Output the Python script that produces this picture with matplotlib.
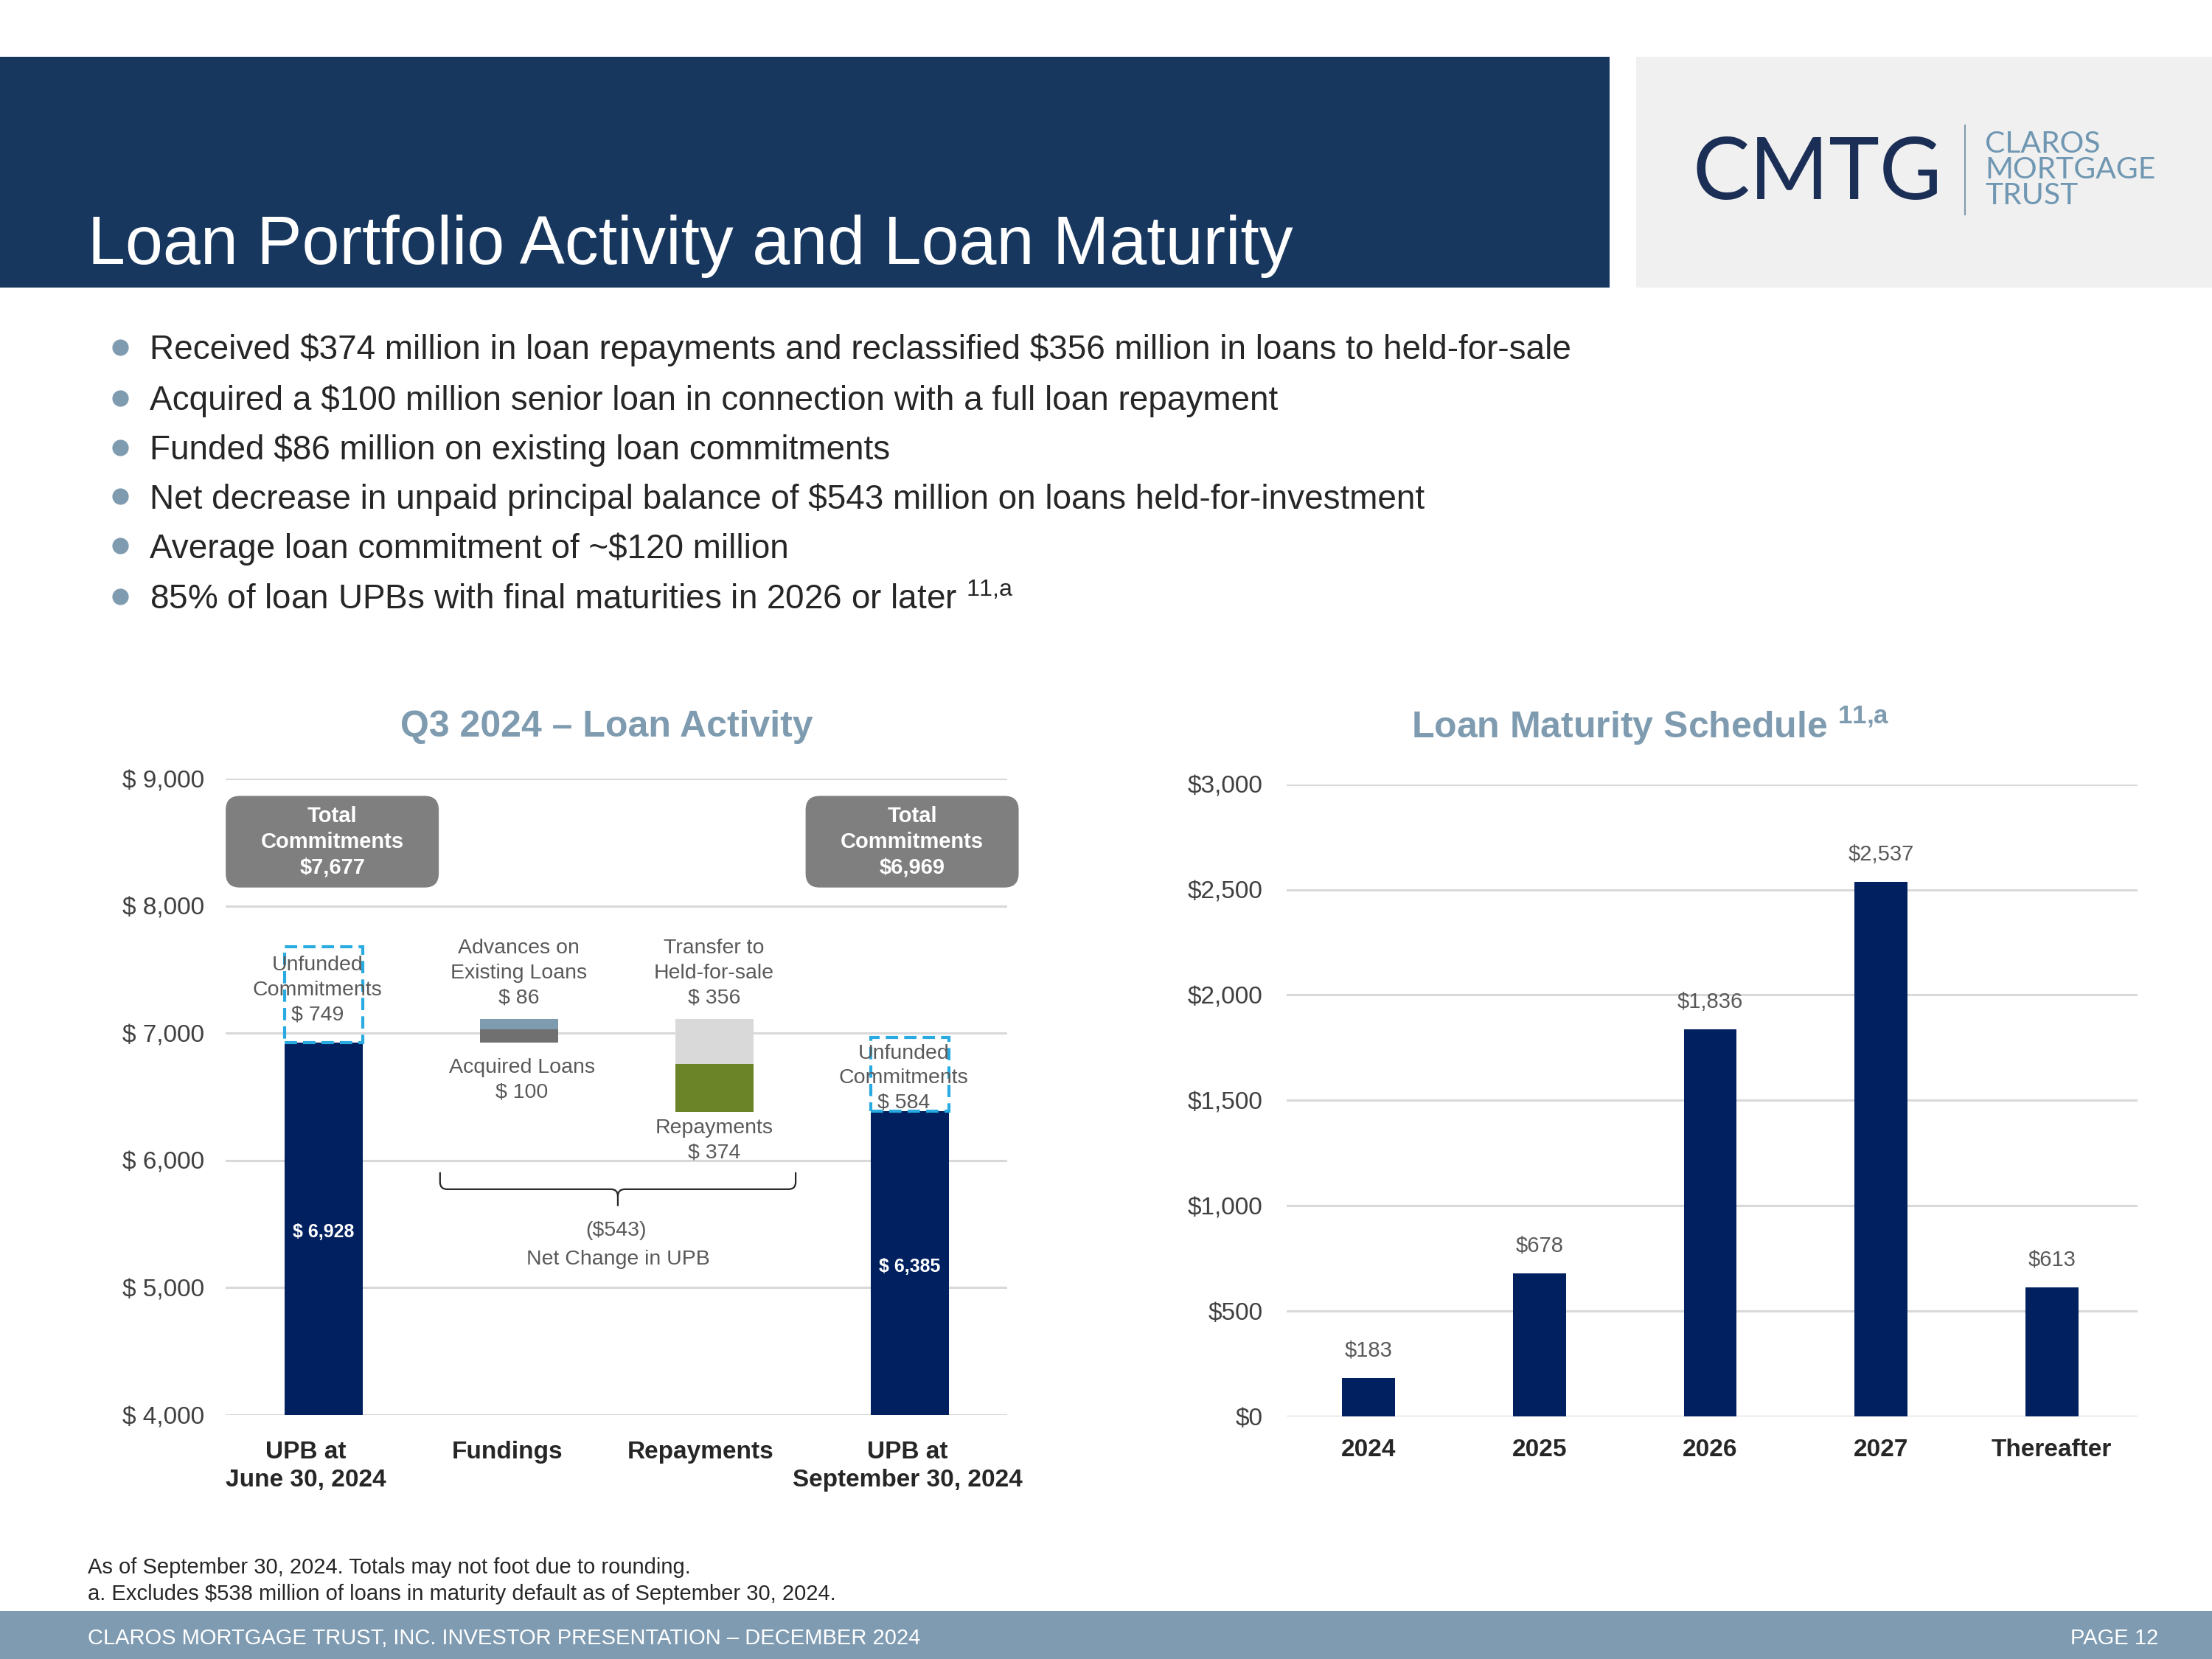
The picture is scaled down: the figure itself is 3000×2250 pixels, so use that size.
import matplotlib
matplotlib.use("Agg")
import matplotlib.pyplot as plt
from matplotlib.patches import Rectangle, FancyBboxPatch, PathPatch
from matplotlib.path import Path
from matplotlib.lines import Line2D

# ---------------- data ----------------
act_categories = ["UPB at\nJune 30, 2024", "Fundings", "Repayments", "UPB at\nSeptember 30, 2024"]
act_label_shift = [-0.09, -0.06, -0.07, -0.01]
upb_start = 6928
unfunded_start = 749
acquired_loans = 100
advances = 86
transfer_hfs = 356
repayments = 374
upb_end = 6385
unfunded_end = 584
act_yticks = [4000, 5000, 6000, 7000, 8000, 9000]

mat_categories = ["2024", "2025", "2026", "2027", "Thereafter"]
mat_values = [183, 678, 1836, 2537, 613]
mat_yticks = [0, 500, 1000, 1500, 2000, 2500, 3000]

bullets = [
    "Received $374 million in loan repayments and reclassified $356 million in loans to held-for-sale",
    "Acquired a $100 million senior loan in connection with a full loan repayment",
    "Funded $86 million on existing loan commitments",
    "Net decrease in unpaid principal balance of $543 million on loans held-for-investment",
    "Average loan commitment of ~$120 million",
    "85% of loan UPBs with final maturities in 2026 or later $^{11{,}a}$",
]

# ---------------- style ----------------
plt.rcParams["font.family"] = ["Liberation Sans", "DejaVu Sans"]
plt.rcParams["mathtext.fontset"] = "custom"
plt.rcParams["mathtext.rm"] = "Liberation Sans"
plt.rcParams["mathtext.bf"] = "Liberation Sans:bold"
plt.rcParams["mathtext.default"] = "regular"

NAVY_BAR = "#002060"
HEADER = "#17375E"
STEEL = "#7F9BB0"
GRID = "#D9D9D9"
LABEL = "#595959"
TICK = "#404040"
DARK = "#262626"
LS = 1.38

W, H = 1568.0, 1176.0
SC = 3000.0 / W


def fx(x):
    return x / W


def fy(y):
    return 1 - y / H


fig = plt.figure(figsize=(30, 22.5), dpi=100)
fig.patch.set_facecolor("white")
renderer = fig.canvas.get_renderer()

# header bands
fig.add_artist(Rectangle((0, fy(204)), fx(1141), (204 - 40) / H, transform=fig.transFigure,
                         facecolor=HEADER, edgecolor="none", zorder=0))
fig.add_artist(Rectangle((fx(1160), fy(204)), 1 - fx(1160), (204 - 40) / H, transform=fig.transFigure,
                         facecolor="#F0F0F0", edgecolor="none", zorder=0))
fig.text(fx(62), fy(187), "Loan Portfolio Activity and Loan Maturity", color="white",
         fontsize=66, va="baseline", ha="left")

# logo
t = fig.text(fx(1200), fy(141), "CMTG", family=["Lato", "DejaVu Sans"], fontweight="normal",
             fontsize=80, color="#1B2E55", va="baseline", ha="left")
bb = t.get_window_extent(renderer)
t.set_fontsize(80 * (177 * SC) / bb.width)
fig.add_artist(Line2D([fx(1393), fx(1393)], [fy(89), fy(152)], transform=fig.transFigure,
                      color=STEEL, lw=1.5))
logo_words = ["CLAROS", "MORTGAGE", "TRUST"]
logo_base = [108, 126.5, 145]
lt = []
for w_, yb in zip(logo_words, logo_base):
    lt.append(fig.text(fx(1407), fy(yb), w_, family=["Lato", "DejaVu Sans"], fontsize=25,
                       color="#7097B2", va="baseline", ha="left"))
bb = lt[1].get_window_extent(renderer)
fs = 25 * (121 * SC) / bb.width
for tt in lt:
    tt.set_fontsize(fs)

# bullets
bullet_centers = [246, 282, 317, 352, 387, 423]
for txt, yc in zip(bullets, bullet_centers):
    fig.add_artist(Line2D([fx(85)], [fy(yc)], transform=fig.transFigure, marker="o",
                          markersize=16, color=STEEL, markeredgewidth=0))
    pm = "^{" in txt
    fig.text(fx(106), fy(yc + 8.6), txt, fontsize=33, color=DARK, va="baseline", ha="left",
             parse_math=pm)

# chart titles
fig.text(fx(430), fy(522), "Q3 2024 – Loan Activity", fontsize=36, fontweight="bold",
         color=STEEL, ha="center", va="baseline")
fig.text(fx(1170), fy(523), "Loan Maturity Schedule $^{11{,}a}$", fontsize=36, fontweight="bold",
         color=STEEL, ha="center", va="baseline")

# ---------------- left chart: loan activity ----------------
ax1 = fig.add_axes([fx(160), fy(1003), (714 - 160) / W, (1003 - 552) / H])
ax1.set_xlim(-0.5, 3.5)
ax1.set_ylim(act_yticks[0], act_yticks[-1])
ax1.set_yticks(act_yticks)
ax1.set_yticklabels([f"$ {v:,}" for v in act_yticks])
ax1.yaxis.grid(True, color=GRID, lw=2.2)
ax1.set_axisbelow(True)
for s in ax1.spines.values():
    s.set_visible(False)
ax1.tick_params(axis="y", length=0, pad=20.7, labelsize=24, labelcolor=TICK)
ax1.set_xticks([i + d for i, d in enumerate(act_label_shift)])
ax1.set_xticklabels(act_categories, fontsize=24, fontweight="bold", color=DARK, linespacing=1.32)
ax1.tick_params(axis="x", length=0, pad=25)

bw = 0.4
# start / end UPB bars
ax1.bar([0, 3], [upb_start, upb_end], width=bw, color=NAVY_BAR, zorder=2)
# fundings stack
ax1.bar(1, acquired_loans, bottom=upb_start, width=bw, color="#707070", zorder=2)
ax1.bar(1, advances, bottom=upb_start + acquired_loans, width=bw, color=STEEL, zorder=2)
peak = upb_start + acquired_loans + advances
# repayments stack
ax1.bar(2, transfer_hfs, bottom=peak - transfer_hfs, width=bw, color="#D9D9D9", zorder=2)
ax1.bar(2, repayments, bottom=peak - transfer_hfs - repayments, width=bw, color="#6B8427", zorder=2)

# unfunded dashed boxes
for xi, base, unf, dy in [(0, upb_start, unfunded_start, 35), (3, upb_end, unfunded_end, -30)]:
    ax1.add_patch(Rectangle((xi - bw / 2, base), bw, unf, fill=False, edgecolor="#29ABE2",
                            lw=3, ls=(0, (4, 2)), zorder=3, clip_on=False))
    ax1.text(xi - 0.03, base + unf / 2 + dy, f"Unfunded\nCommitments\n$ {unf}", ha="center",
             va="center", fontsize=20.5, color=LABEL, zorder=4, linespacing=LS)
    ax1.text(xi, (act_yticks[0] + base) / 2 - 25, f"$ {base:,}", ha="center", va="center",
             fontsize=18, fontweight="bold", color="white", zorder=4)

# total commitments boxes
asp = (714 - 160) / (1003 - 552)
for x0, total in [(0.0, upb_start + unfunded_start), (0.742, upb_end + unfunded_end)]:
    bwid, y0, bh = 0.2726, 0.829, 0.144
    ax1.add_patch(FancyBboxPatch((x0, y0), bwid, bh, boxstyle="round,pad=0,rounding_size=0.018",
                                 mutation_aspect=asp, transform=ax1.transAxes, facecolor="#7F7F7F",
                                 edgecolor="none", clip_on=False, zorder=3))
    ax1.text(x0 + bwid / 2, y0 + bh / 2, f"Total\nCommitments\n${total:,}", transform=ax1.transAxes,
             ha="center", va="center", fontsize=21, fontweight="bold", color="white",
             linespacing=1.3, zorder=4)

# labels around fundings / repayments
ax1.annotate(f"Advances on\nExisting Loans\n$ {advances}", (1, peak), xytext=(0, 11),
             textcoords="offset points", ha="center", va="bottom", fontsize=20.5, color=LABEL,
             linespacing=LS)
ax1.annotate(f"Acquired Loans\n$ {acquired_loans}", (1.015, upb_start), xytext=(0, -15),
             textcoords="offset points", ha="center", va="top", fontsize=20.5, color=LABEL,
             linespacing=LS)
ax1.annotate(f"Transfer to\nHeld-for-sale\n$ {transfer_hfs}", (2, peak), xytext=(0, 11),
             textcoords="offset points", ha="center", va="bottom", fontsize=20.5, color=LABEL,
             linespacing=LS)
ax1.annotate(f"Repayments\n$ {repayments}", (2, peak - transfer_hfs - repayments), xytext=(0, -7),
             textcoords="offset points", ha="center", va="top", fontsize=20.5, color=LABEL,
             linespacing=LS)

# brace + net change
x0b, x1b, xc = 0.597, 2.417, 1.507
ytop, ymid, ybot = 5907, 5774, 5641
rx, ry = 0.036, 55
verts = [(x0b, ytop), (x0b, ymid + ry), (x0b, ymid), (x0b + rx, ymid), (xc - rx, ymid),
         (xc, ymid), (xc, ymid - ry), (xc, ybot),
         (xc, ymid - ry), (xc, ymid), (xc + rx, ymid), (x1b - rx, ymid), (x1b, ymid), (x1b, ymid + ry),
         (x1b, ytop)]
codes = [Path.MOVETO, Path.LINETO, Path.CURVE3, Path.CURVE3, Path.LINETO,
         Path.CURVE3, Path.CURVE3, Path.LINETO,
         Path.MOVETO, Path.CURVE3, Path.CURVE3, Path.LINETO, Path.CURVE3, Path.CURVE3,
         Path.LINETO]
ax1.add_patch(PathPatch(Path(verts, codes), fill=False, edgecolor=DARK, lw=1.6, zorder=3))
net = upb_end - upb_start
ax1.text(xc - 0.01, 5450, f"(${abs(net):,})", ha="center", va="center", fontsize=20.5, color=LABEL)
ax1.text(xc, 5220, "Net Change in UPB", ha="center", va="center", fontsize=20.5, color=LABEL)

# ---------------- right chart: maturity ----------------
ax2 = fig.add_axes([fx(912), fy(1004), (1515 - 912) / W, (1004 - 556) / H])
xs = list(range(len(mat_categories)))
ax2.bar(xs, mat_values, width=0.31, color=NAVY_BAR, zorder=2)
ax2.set_xlim(-0.48, 4.5)
ax2.set_ylim(mat_yticks[0], mat_yticks[-1])
ax2.set_yticks(mat_yticks)
ax2.set_yticklabels([f"${v:,}" for v in mat_yticks])
ax2.yaxis.grid(True, color=GRID, lw=2.2)
ax2.set_axisbelow(True)
for s in ax2.spines.values():
    s.set_visible(False)
ax2.tick_params(axis="y", length=0, pad=23.4, labelsize=24, labelcolor=TICK)
ax2.set_xticks(xs)
ax2.set_xticklabels(mat_categories, fontsize=24, fontweight="bold", color=DARK)
ax2.tick_params(axis="x", length=0, pad=21.5)
for xi, v in zip(xs, mat_values):
    ax2.annotate(f"${v:,}", (xi, v), xytext=(0, 27), textcoords="offset points",
                 ha="center", va="center", fontsize=21, color=LABEL)

# ---------------- footnotes & footer ----------------
fig.text(fx(62), fy(1115.5), "As of September 30, 2024. Totals may not foot due to rounding.",
         fontsize=21, color=DARK, va="baseline", ha="left")
fig.text(fx(62), fy(1134), "a. Excludes $538 million of loans in maturity default as of September 30, 2024.",
         fontsize=21, color=DARK, va="baseline", ha="left")
fig.add_artist(Rectangle((0, 0), 1, (1176 - 1142) / H, transform=fig.transFigure,
                         facecolor="#7F9BB2", edgecolor="none", zorder=0))
fig.text(fx(62), fy(1165.5), "CLAROS MORTGAGE TRUST, INC. INVESTOR PRESENTATION – DECEMBER 2024",
         fontsize=21, color="white", va="baseline", ha="left")
fig.text(fx(1530), fy(1165.5), "PAGE 12", fontsize=21, color="white", va="baseline", ha="right")

fig.savefig("out.png", dpi=100, facecolor="white")
